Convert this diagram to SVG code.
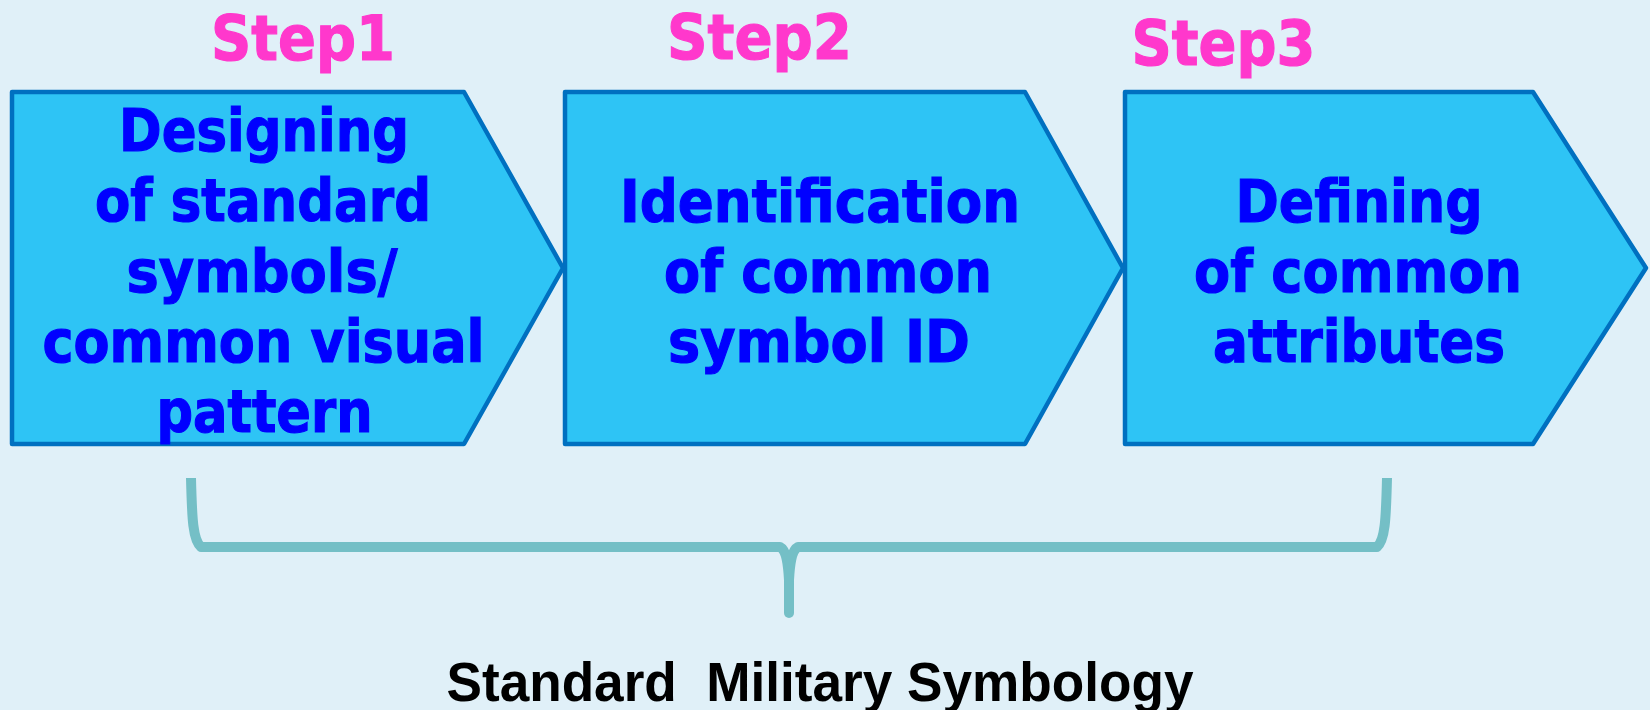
<svg xmlns="http://www.w3.org/2000/svg" width="1650" height="710" viewBox="0 0 1650 710">
<style>
.bg{fill:#E0F0F8}
.box{fill:#2EC4F5;stroke:#0070C0;stroke-width:4.5;stroke-linejoin:round}
.t{font-family:"DejaVu Sans",Verdana,sans-serif;font-weight:bold;font-size:58px;fill:#0000FF;stroke:#0000FF;stroke-width:1.2;text-anchor:middle}
.step{font-family:"DejaVu Sans",Verdana,sans-serif;font-weight:bold;font-size:62px;fill:#FF38CC;stroke:#FF38CC;stroke-width:1.2;text-anchor:middle}
.brace{fill:none;stroke:#74BFC6;stroke-width:10;stroke-linejoin:round}
.cap{font-family:"Liberation Sans",Arial,sans-serif;font-weight:bold;font-size:56px;fill:#000;text-anchor:middle}
</style>
<rect class="bg" x="0" y="0" width="1650" height="710"/>
<g id="step1">
<text class="step" x="303" y="60" textLength="184" lengthAdjust="spacingAndGlyphs">Step1</text>
<polygon class="box" points="12,92 464,92 563,268 464,444 12,444"/>
<text class="t" x="264" y="151" textLength="290" lengthAdjust="spacingAndGlyphs">Designing</text>
<text class="t" x="263" y="221" textLength="336" lengthAdjust="spacingAndGlyphs">of standard</text>
<text class="t" x="262" y="292" textLength="271" lengthAdjust="spacingAndGlyphs">symbols/</text>
<text class="t" x="263.5" y="362" textLength="442" lengthAdjust="spacingAndGlyphs">common visual</text>
<text class="t" x="264.5" y="432" textLength="216" lengthAdjust="spacingAndGlyphs">pattern</text>
</g>
<g id="step2">
<text class="step" x="759.5" y="59" textLength="185" lengthAdjust="spacingAndGlyphs">Step2</text>
<polygon class="box" points="565,92 1025,92 1123,268 1025,444 565,444"/>
<text class="t" x="820" y="222" textLength="400" lengthAdjust="spacingAndGlyphs">Identification</text>
<text class="t" x="828" y="292" textLength="328" lengthAdjust="spacingAndGlyphs">of common</text>
<text class="t" x="819" y="362" textLength="302" lengthAdjust="spacingAndGlyphs">symbol ID</text>
</g>
<g id="step3">
<text class="step" x="1223.5" y="65" textLength="184" lengthAdjust="spacingAndGlyphs">Step3</text>
<polygon class="box" points="1125,92 1533,92 1646,268 1533,444 1125,444"/>
<text class="t" x="1359" y="222" textLength="247" lengthAdjust="spacingAndGlyphs">Defining</text>
<text class="t" x="1358" y="292" textLength="328" lengthAdjust="spacingAndGlyphs">of common</text>
<text class="t" x="1359" y="362" textLength="292" lengthAdjust="spacingAndGlyphs">attributes</text>
</g>
<g id="connectors">
<path class="brace" d="M191,478 C192,520 193,540 201,547 L780,547 C786,550 788,562 789,580 L789,600"/>
<path class="brace" d="M1387,478 C1386,520 1385,540 1377,547 L798,547 C792,550 790,562 789,580 L789,600"/>
<path class="brace" d="M789,585 L789,613" stroke-linecap="round"/>
</g>
<g id="label">
<text class="cap" x="820" y="701" textLength="747" lengthAdjust="spacingAndGlyphs" xml:space="preserve">Standard  Military Symbology</text>
</g>
</svg>
